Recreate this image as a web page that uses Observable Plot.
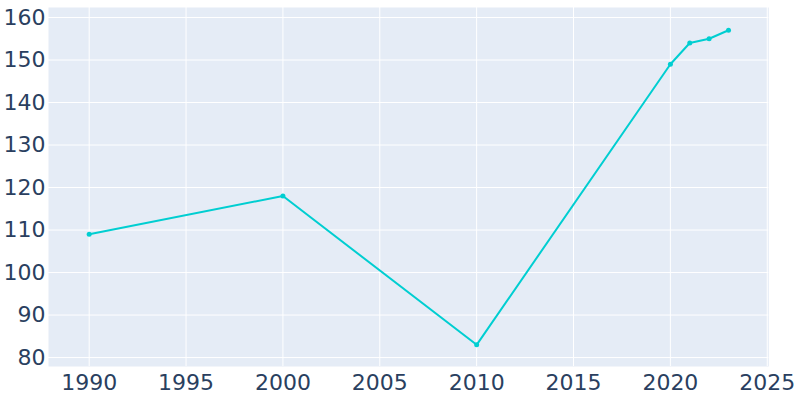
<!DOCTYPE html>
<html>
<head>
<meta charset="utf-8">
<script src="https://cdn.jsdelivr.net/npm/d3@7"></script>
<script src="https://cdn.jsdelivr.net/npm/@observablehq/plot@0.6"></script>
<style>
  html, body { margin: 0; padding: 0; background: #fff; }
  svg { display: block; }
</style>
</head>
<body>
<div id="chart"></div>
<script>
const years = [1990, 2000, 2010, 2020, 2021, 2022, 2023];
const population = [109, 118, 83, 149, 154, 155, 157];
const xTicks = [1990, 1995, 2000, 2005, 2010, 2015, 2020, 2025];
const yTicks = [80, 90, 100, 110, 120, 130, 140, 150, 160];

const data = years.map((y, i) => ({year: y, value: population[i]}));

const chart = Plot.plot({
  width: 800,
  height: 400,
  marginLeft: 48,
  marginRight: 31.7,
  marginTop: 7,
  marginBottom: 34,
  style: {fontFamily: "DejaVu Sans, sans-serif", background: "#fff", fontSize: "22px"},
  x: {domain: [1987.9, 2025.08], ticks: xTicks, tickFormat: d => String(d)},
  y: {domain: [77.9, 162.35], ticks: yTicks},
  marks: [
    Plot.frame({fill: "#E5ECF6", stroke: null}),
    Plot.gridX(xTicks, {stroke: "#fff", strokeOpacity: 1, strokeWidth: 1}),
    Plot.gridY(yTicks, {stroke: "#fff", strokeOpacity: 1, strokeWidth: 1}),
    Plot.axisX(xTicks, {tickSize: 0, tickPadding: 8, fontSize: 22, fill: "#2a3f5f", tickFormat: d => String(d), label: null}),
    Plot.axisY(yTicks, {tickSize: 0, tickPadding: 3, fontSize: 22, fill: "#2a3f5f", label: null}),
    Plot.line(data, {x: "year", y: "value", stroke: "#00CED1", strokeWidth: 2}),
    Plot.dot(data, {x: "year", y: "value", fill: "#00CED1", r: 2.5, stroke: null})
  ]
});
document.getElementById("chart").appendChild(chart);
</script>
</body>
</html>
